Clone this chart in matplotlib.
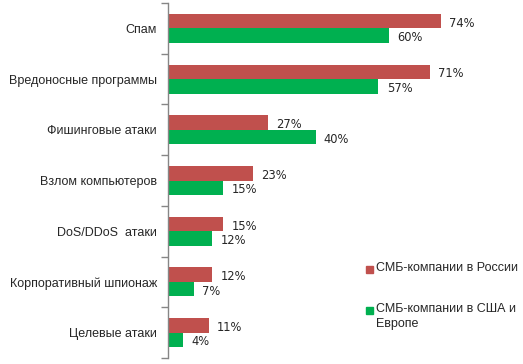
import matplotlib
matplotlib.use("Agg")
import matplotlib.pyplot as plt
from matplotlib.patches import Rectangle

categories = ["Спам", "Вредоносные программы", "Фишинговые атаки", "Взлом компьютеров",
              "DoS/DDoS  атаки", "Корпоративный шпионаж", "Целевые атаки"]
russia = [74, 71, 27, 23, 15, 12, 11]
usa_eu = [60, 57, 40, 15, 12, 7, 4]
series_names = ["СМБ-компании в России", "СМБ-компании в США и\nЕвропе"]

RED = "#C0504D"
GREEN = "#00B050"
AXIS = "#868686"
TXT = "#262626"

W, H = 523, 364
fig = plt.figure(figsize=(W / 100, H / 100), dpi=100)
left = 168 / W
right = (168 + 3.69 * 95) / W
top = 1 - 3 / H
bottom = 1 - 358 / H
ax = fig.add_axes([left, bottom, right - left, top - bottom])

n = len(categories)
ys = list(range(n))
h = 0.285
ax.barh([y - h / 2 for y in ys], russia, height=h, color=RED, label=series_names[0])
ax.barh([y + h / 2 for y in ys], usa_eu, height=h, color=GREEN, label=series_names[1])

for y, v in zip(ys, russia):
    ax.annotate(f"{v}%", (v, y - h / 2), xytext=(6, -1.5), textcoords="offset points",
                va="center", ha="left", fontsize=8.3, family="DejaVu Sans", color=TXT)
for y, v in zip(ys, usa_eu):
    ax.annotate(f"{v}%", (v, y + h / 2), xytext=(6, -1.5), textcoords="offset points",
                va="center", ha="left", fontsize=8.3, family="DejaVu Sans", color=TXT)

ax.set_xlim(0, 95)
ax.set_ylim(n - 0.5, -0.5)
ax.set_yticks(ys)
ax.set_yticklabels(categories, family="Liberation Sans", fontsize=9, color=TXT)
ax.tick_params(axis="y", which="major", length=0, pad=8)
ax.set_yticks([i + 0.5 for i in range(-1, n)], minor=True)
ax.tick_params(axis="y", which="minor", length=5, color=AXIS, width=1)
ax.set_xticks([])
for s in ["top", "right", "bottom"]:
    ax.spines[s].set_visible(False)
ax.spines["left"].set_color(AXIS)
ax.spines["left"].set_linewidth(1)

# legend
for (yy, col, name) in [(269, RED, series_names[0]), (310, GREEN, series_names[1])]:
    fig.patches.append(Rectangle((366 / W, 1 - (yy + 3.5) / H), 7 / W, 7 / H,
                                 transform=fig.transFigure, color=col))
    fig.text(376 / W, 1 - (yy - 7) / H, name, family="Liberation Sans", fontsize=9,
             va="top", ha="left", color=TXT, linespacing=1.35)

fig.savefig("out.png", dpi=100)
